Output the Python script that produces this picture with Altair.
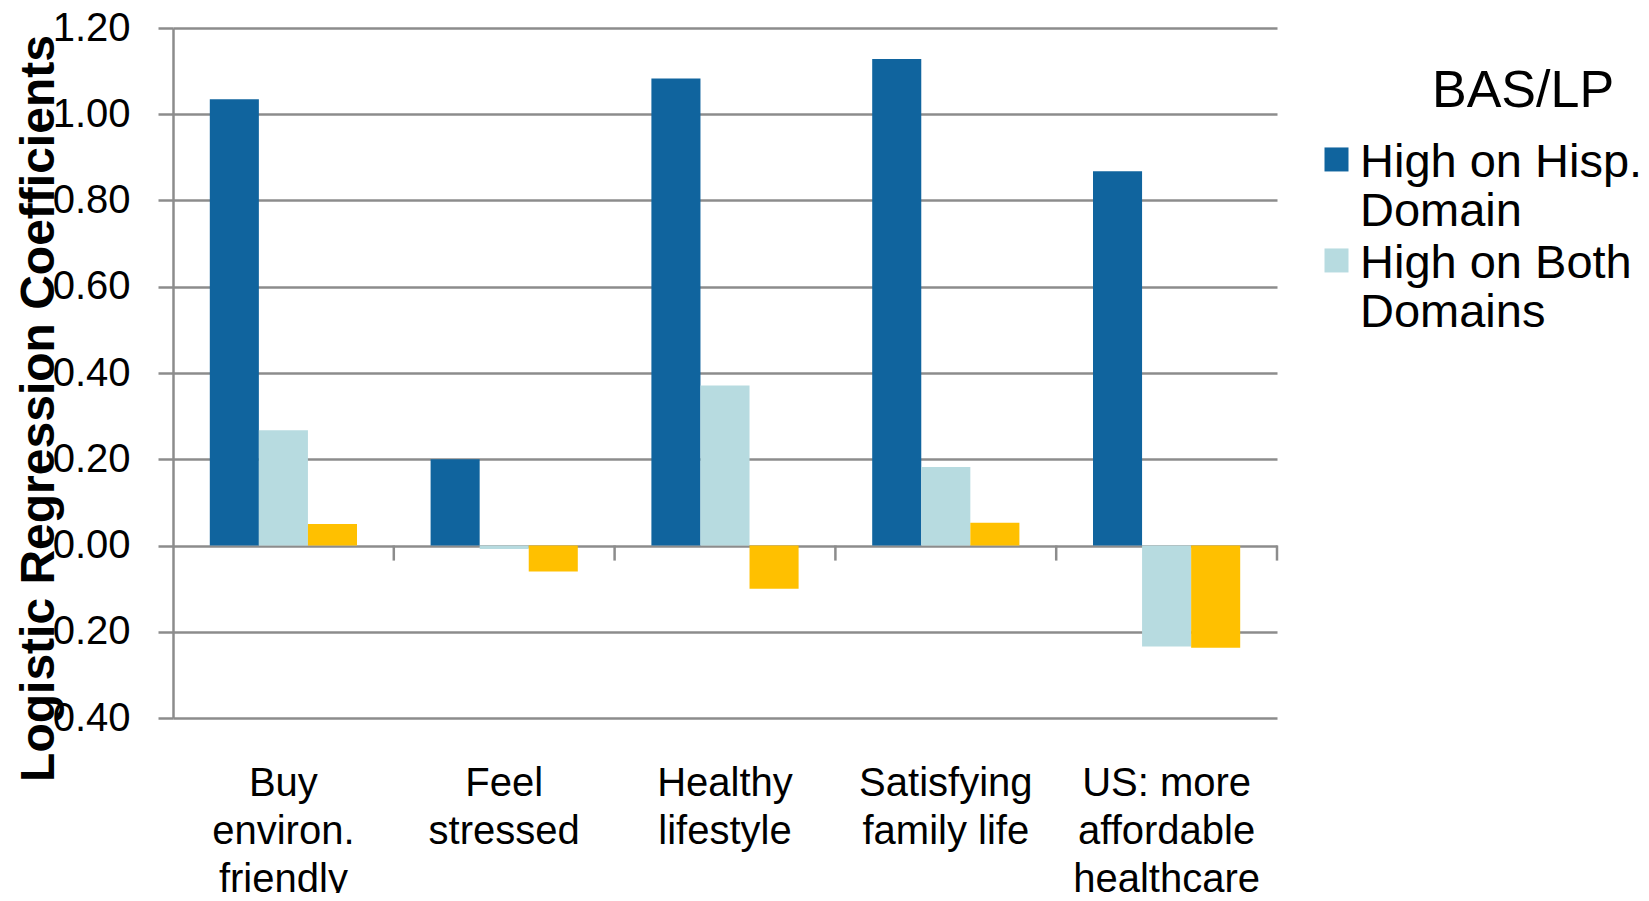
import altair as alt
import pandas as pd

categories = [
    "Buy\nenviron.\nfriendly",
    "Feel\nstressed",
    "Healthy\nlifestyle",
    "Satisfying\nfamily life",
    "US: more\naffordable\nhealthcare",
]
series = ["High on Hisp.\nDomain", "High on Both\nDomains", "High on US\nDomain"]
hisp_values = [1.035, 0.20, 1.083, 1.128, 0.868]
both_values = [0.267, -0.008, 0.371, 0.182, -0.234]
us_values = [0.050, -0.060, -0.100, 0.053, -0.237]
y_ticks = [-0.4, -0.2, 0.0, 0.2, 0.4, 0.6, 0.8, 1.0, 1.2]
colors = ["#10649E", "#B7DBE0", "#FFC000"]

rows = []
for s, vals in zip(series, [hisp_values, both_values, us_values]):
    for c, v in zip(categories, vals):
        rows.append({"category": c, "series": s, "value": v})
df = pd.DataFrame(rows)
cat_df = pd.DataFrame({"category": categories})

FONT = "Liberation Sans"
GRID = "#8C8C8C"

x_scale = alt.Scale(domain=categories, paddingInner=1 / 3, paddingOuter=1 / 6)
x_scale_cells = alt.Scale(domain=categories, paddingInner=0, paddingOuter=0)
y_scale = alt.Scale(domain=[-0.4, 1.2], nice=False, zero=False)

bars = alt.Chart(df).mark_bar().encode(
    x=alt.X(
        "category:N",
        scale=x_scale,
        sort=categories,
        axis=alt.Axis(
            title=None,
            labelAngle=0,
            labelExpr="split(datum.value, '\\n')",
            labelFont=FONT,
            labelFontSize=40,
            labelColor="#000000",
            labelBaseline="top",
            labelLineHeight=48,
            labelPadding=45,
            labelLimit=400,
            ticks=False,
            domain=False,
            grid=False,
        ),
    ),
    xOffset=alt.XOffset("series:N", sort=series, scale=alt.Scale(domain=series)),
    y=alt.Y(
        "value:Q",
        scale=y_scale,
        axis=alt.Axis(
            title="Logistic Regression Coefficients",
            titleFont=FONT,
            titleFontSize=48,
            titleFontWeight="bold",
            titleColor="#000000",
            titleAngle=270,
            titleX=-134,
            titleY=380,
            titleAlign="center",
            titleBaseline="middle",
            values=y_ticks,
            format=".2f",
            labelFont=FONT,
            labelFontSize=40,
            labelColor="#000000",
            labelPadding=28,
            tickSize=15,
            tickColor=GRID,
            tickWidth=2.5,
            domainColor=GRID,
            domainWidth=2.5,
            grid=True,
            gridColor=GRID,
            gridWidth=2.5,
        ),
    ),
    color=alt.Color(
        "series:N",
        sort=series,
        scale=alt.Scale(domain=series, range=colors),
        legend=alt.Legend(
            title=None,
            orient="none",
            legendX=1140,
            legendY=125,
            values=series[:2],
            labelFont=FONT,
            labelFontSize=47,
            labelColor="#000000",
            labelExpr="split(datum.value, '\\n')",
            labelBaseline="alphabetic",
            labelLimit=500,
            labelOffset=0,
            symbolType="M-1,-2.42H1V-0.42H-1Z",
            symbolSize=576,
            symbolStrokeWidth=0,
            rowPadding=4,
        ),
    ),
)

zero_ticks = alt.Chart(cat_df).mark_rule(color=GRID, strokeWidth=2.5).encode(
    x=alt.X("category:N", scale=x_scale_cells, sort=categories, bandPosition=1, axis=None),
    y=alt.datum(0),
    y2=alt.datum(-0.035),
)

chart = (
    alt.layer(bars, zero_ticks)
    .resolve_scale(x="independent")
    .properties(
        width=1104,
        height=690,
        padding={"left": 165, "top": 20, "right": 364, "bottom": 175},
        autosize=alt.AutoSizeParams(type="none"),
        background="#FFFFFF",
        title=alt.TitleParams(
            "BAS/LP",
            anchor="start",
            frame="group",
            orient="top",
            dx=1259,
            dy=151,
            offset=0,
            baseline="alphabetic",
            font=FONT,
            fontSize=52,
            fontWeight="normal",
            color="#000000",
        ),
    )
    .configure_view(strokeWidth=0)
)

chart.save("out.html", embed_options={"renderer": "svg", "actions": False})
